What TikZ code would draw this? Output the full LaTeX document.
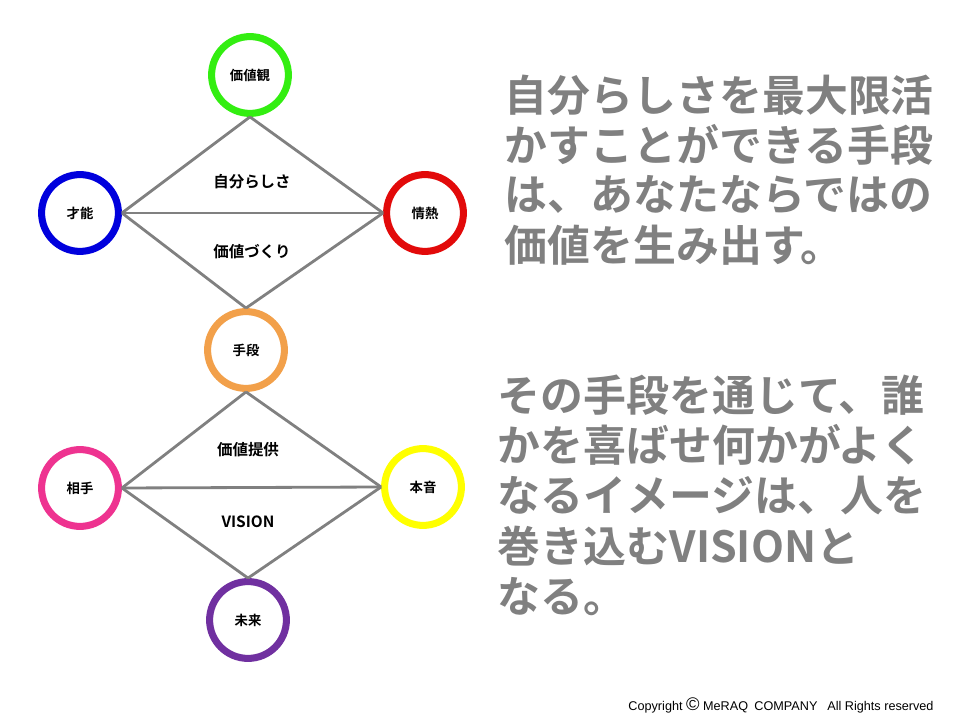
\documentclass[tikz,border=0pt]{standalone}
\usepackage{fontspec}
\setmainfont{Noto Sans CJK JP}[BoldFont={* Bold}]
\newfontfamily\copyfont{Liberation Sans}
\definecolor{ringgreen}{HTML}{33EE11}
\definecolor{ringblue}{HTML}{0000DD}
\definecolor{ringred}{HTML}{E20A0A}
\definecolor{ringorange}{HTML}{F2A04A}
\definecolor{ringpink}{HTML}{EE3390}
\definecolor{ringyellow}{HTML}{FFFF00}
\definecolor{ringpurple}{HTML}{7030A0}
\definecolor{linegray}{HTML}{808080}
\tikzset{
  ring/.style={circle,draw=#1,line width=5pt,minimum size=1.92cm,inner sep=0pt,
    font=\bfseries\fontsize{9.5}{11}\selectfont},
  link/.style={draw=linegray,line width=2pt},
  tag/.style={font=\bfseries\fontsize{11}{13}\selectfont},
  bigtext/.style={anchor=west,text=linegray,font=\bfseries\fontsize{30.5}{32}\selectfont}
}
\begin{document}
\begin{tikzpicture}[x=0.025cm,y=-0.025cm]
\useasboundingbox (0,0) rectangle (960,720);
% upper diamond
\node[ring=ringgreen] (kachikan) at (250,75) {価値観};
\node[ring=ringblue] (saino) at (80,213) {才能};
\node[ring=ringred] (jonetsu) at (425,213) {情熱};
\node[ring=ringorange] (shudan) at (246,350) {手段};
% lower diamond
\node[ring=ringpink] (aite) at (80,488) {相手};
\node[ring=ringyellow] (honne) at (423,487) {本音};
\node[ring=ringpurple] (mirai) at (248,620) {未来};

\draw[link] (kachikan.south) -- (saino.east);
\draw[link] (kachikan.south) -- (jonetsu.west);
\draw[link] (saino.east) -- (jonetsu.west);
\draw[link] (saino.east) -- (shudan.north);
\draw[link] (jonetsu.west) -- (shudan.north);
\draw[link] (shudan.south) -- (aite.east);
\draw[link] (shudan.south) -- (honne.west);
\draw[link] (aite.east) -- (honne.west);
\draw[link] (aite.east) -- (mirai.north);
\draw[link] (honne.west) -- (mirai.north);

\node[tag] (jibun) at (252,182) {自分らしさ};
\node[tag] (zukuri) at (252,252) {価値づくり};
\node[tag] (teikyo) at (248,450) {価値提供};
\node[tag] (vision) at (248,522) {VISION};

% right text
\node[bigtext] (t1) at (500,95) {自分らしさを最大限活};
\node[bigtext] (t2) at (500,145) {かすことができる手段};
\node[bigtext] (t3) at (500,195) {は、あなたならではの};
\node[bigtext] (t4) at (500,245) {価値を生み出す。};
\node[bigtext] (u1) at (493,395) {その手段を通じて、誰};
\node[bigtext] (u2) at (493,445) {かを喜ばせ何かがよく};
\node[bigtext] (u3) at (493,496) {なるイメージは、人を};
\node[bigtext] (u4) at (493,546) {巻き込むVISIONと};
\node[bigtext] (u5) at (493,597) {なる。};

\node[font=\copyfont\fontsize{9}{10}\selectfont] (copy) at (781,705)
  {Copyright {\fontsize{13}{13}\selectfont ©} MeRAQ\enspace COMPANY\enspace\ All Rights reserved};
\end{tikzpicture}
\end{document}
